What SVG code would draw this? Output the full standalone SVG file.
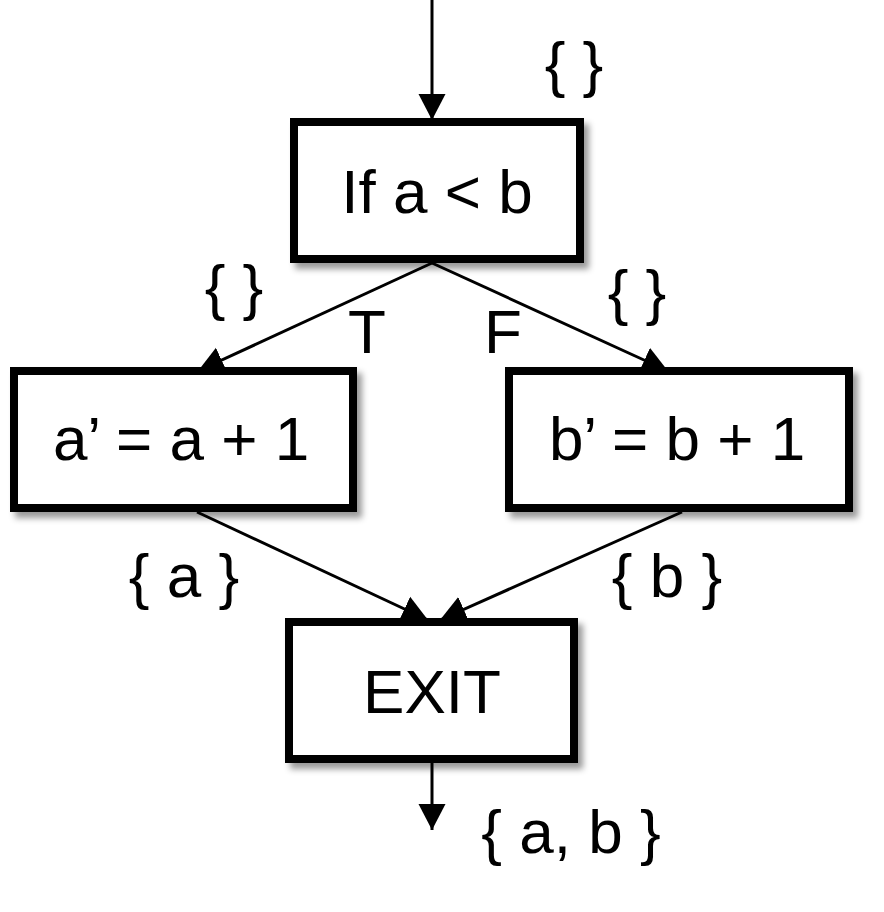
<svg xmlns="http://www.w3.org/2000/svg" width="884" height="912" viewBox="0 0 884 912">
<defs>
<filter id="sh" x="-10%" y="-10%" width="130%" height="140%">
<feDropShadow dx="5" dy="6" stdDeviation="3" flood-color="#000" flood-opacity="0.4"/>
</filter>
<marker id="ahb" markerWidth="26" markerHeight="28" refX="26" refY="14" orient="auto" markerUnits="userSpaceOnUse" viewBox="0 0 26 28">
<path d="M0,0.5 L26,14 L0,27.5 z" fill="#000"/>
</marker>
</defs>
<style>
.box{fill:#fff;stroke:#000;stroke-width:8;filter:url(#sh)}
.t{font-family:"Liberation Sans",Arial,sans-serif;font-size:62px;fill:#000}
.c{stroke:#000;stroke-width:3;fill:none;marker-end:url(#ahb)}
</style>
<rect width="884" height="912" fill="#fff"/>
<g id="connectors">
<line class="c" x1="432" y1="0" x2="432" y2="120"/>
<line class="c" x1="432" y1="263" x2="198" y2="371"/>
<line class="c" x1="432" y1="263" x2="668" y2="371"/>
<line class="c" x1="197" y1="512" x2="428" y2="620"/>
<line class="c" x1="682" y1="512" x2="440" y2="620"/>
<line class="c" x1="432" y1="763" x2="432" y2="830"/>
</g>
<g id="n_if">
<rect class="box" x="294" y="122" width="286" height="137"/>
<text class="t" x="437" y="213" text-anchor="middle">If a &lt; b</text>
</g>
<g id="n_a">
<rect class="box" x="14" y="371" width="339" height="137"/>
<text class="t" x="181" y="460" text-anchor="middle">a’ = a + 1</text>
</g>
<g id="n_b">
<rect class="box" x="509" y="371" width="340" height="137"/>
<text class="t" x="677" y="460" text-anchor="middle">b’ = b + 1</text>
</g>
<g id="n_exit">
<rect class="box" x="289" y="622" width="285" height="137"/>
<text class="t" x="432" y="713" text-anchor="middle">EXIT</text>
</g>
<g id="labels">
<text class="t" x="574" y="85" text-anchor="middle">{ }</text>
<text class="t" x="234" y="308" text-anchor="middle">{ }</text>
<text class="t" x="367" y="353" text-anchor="middle">T</text>
<text class="t" x="503" y="353" text-anchor="middle">F</text>
<text class="t" x="637" y="313" text-anchor="middle">{ }</text>
<text class="t" x="184" y="597" text-anchor="middle">{ a }</text>
<text class="t" x="667" y="597" text-anchor="middle">{ b }</text>
<text class="t" x="571" y="853" text-anchor="middle">{ a, b }</text>
</g>
</svg>
